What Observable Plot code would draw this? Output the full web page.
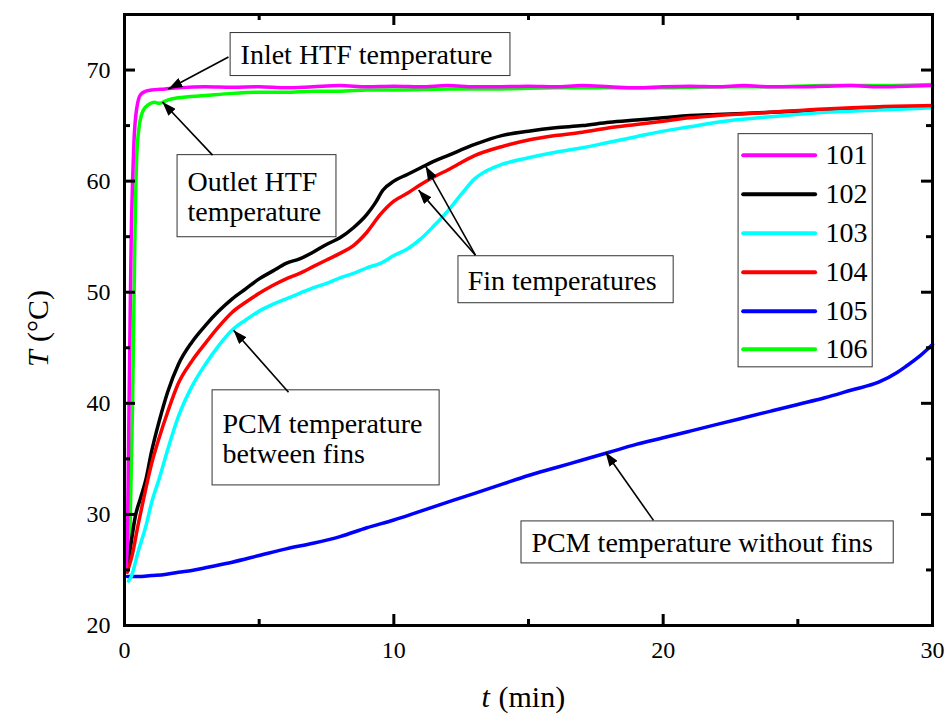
<!DOCTYPE html>
<html>
<head>
<meta charset="utf-8">
<script src="https://cdn.jsdelivr.net/npm/d3@7"></script>
<script src="https://cdn.jsdelivr.net/npm/@observablehq/plot@0.6"></script>
<style>
  html, body { margin: 0; padding: 0; background: white; }
  svg { font-family: "Liberation Serif", "Times New Roman", serif; }
</style>
</head>
<body>
<div id="chart"></div>
<pre id="note" style="position:absolute;left:0;top:0;margin:0;"></pre>
<script>
// ---- Series data (time in min, temperature in °C) ----
const seriesNames = ["101", "102", "103", "104", "105", "106"];
const seriesColors = ["#ff00ff", "#000000", "#00ffff", "#ff0000", "#0000ff", "#00ff00"];

const t101 = [0.05,0.1,0.15,0.2,0.25,0.3,0.35,0.45,0.6,0.8,1.0,1.5,2,3,4,5,6,7,8,9,10,11,12,13,14,15,16,17,18,19,20,21,22,23,24,25,26,27,28,29,30];
const T101 = [25.0,27.0,36.0,46.0,55.0,60.0,63.5,66.5,67.8,68.1,68.2,68.3,68.4,68.5,68.45,68.5,68.4,68.5,68.6,68.5,68.55,68.5,68.6,68.5,68.5,68.55,68.5,68.6,68.5,68.4,68.5,68.55,68.5,68.6,68.5,68.5,68.55,68.6,68.5,68.55,68.6];

const t106 = [0.1,0.2,0.3,0.38,0.45,0.55,0.7,0.9,1.1,1.3,1.6,2,3,4,5,6,7,8,9,10,12,14,16,18,20,22,24,26,28,30];
const T106 = [24.8,28.0,40.0,54.0,62.0,65.0,66.4,66.9,67.1,67.0,67.3,67.5,67.7,67.9,68.0,68.0,68.1,68.1,68.2,68.2,68.3,68.3,68.4,68.4,68.4,68.5,68.5,68.6,68.6,68.7];

const t102 = [0.1,0.25,0.4,0.6,0.8,1.0,1.3,1.6,2.0,2.5,3,3.5,4,4.5,5,5.5,6,6.5,7,7.5,8,8.5,9,9.3,9.6,10,10.5,11,11.5,12,13,14,15,16,17,18,19,20,21,22,24,26,28,30];
const T102 = [25.0,27.5,29.8,31.5,33.2,35.6,38.5,41.0,43.5,45.5,47.0,48.3,49.4,50.3,51.2,51.9,52.6,53.0,53.6,54.3,54.9,55.8,57.0,58.0,59.2,60.0,60.6,61.2,61.8,62.3,63.3,64.1,64.5,64.8,65.0,65.3,65.5,65.7,65.9,66.0,66.2,66.4,66.6,66.7];

const t103 = [0.15,0.25,0.5,0.8,1.0,1.3,1.6,2.0,2.5,3,3.5,4,4.5,5,5.5,6,6.5,7,7.5,8,8.5,9,9.5,10,10.5,11,11.5,12,12.5,13,13.5,14,15,16,17,18,19,20,21,22,24,26,28,30];
const T103 = [24.0,24.4,26.6,29.0,31.0,33.3,35.8,38.8,41.5,43.5,45.2,46.6,47.5,48.3,48.9,49.4,49.9,50.4,50.8,51.3,51.7,52.2,52.6,53.3,53.9,54.8,56.0,57.3,58.8,60.2,61.0,61.5,62.1,62.6,63.0,63.5,64.0,64.5,64.9,65.3,65.8,66.2,66.4,66.6];

const t104 = [0.1,0.3,0.5,0.7,1.0,1.3,1.6,2.0,2.5,3,3.5,4,4.5,5,5.5,6,6.5,7,7.5,8,8.5,9,9.5,10,10.5,11,11.5,12,13,14,15,16,17,18,19,20,21,22,24,26,28,30];
const T104 = [24.8,26.5,29.0,31.3,34.5,37.0,39.2,41.8,43.8,45.4,46.9,48.2,49.1,49.9,50.6,51.2,51.7,52.3,52.9,53.5,54.2,55.4,57.0,58.2,58.9,59.7,60.4,61.0,62.3,63.1,63.7,64.1,64.4,64.8,65.1,65.4,65.7,65.9,66.2,66.5,66.7,66.8];

const t105 = [0.1,0.5,1,1.5,2,2.5,3,4,5,6,7,8,9,10,11,12,13,14,15,16,17,18,19,20,21,22,23,24,25,26,27,28,28.7,29.0,29.5,30];
const T105 = [24.4,24.4,24.5,24.6,24.8,24.95,25.2,25.7,26.3,26.9,27.4,28.0,28.8,29.5,30.3,31.1,31.9,32.7,33.5,34.2,34.9,35.6,36.3,36.9,37.5,38.1,38.7,39.3,39.9,40.5,41.2,41.9,42.8,43.3,44.2,45.3];

// ---- Axis ticks ----
const xMajor = [0, 10, 20, 30];
const xMinor = [5, 15, 25];
const yMajor = [20, 30, 40, 50, 60, 70];
const yMinor = [25, 35, 45, 55, 65, 75];

// ---- Annotations (data units) ----
const annoText = ["Inlet HTF temperature", "Outlet HTF\ntemperature", "Fin temperatures", "PCM temperature\nbetween fins", "PCM temperature without fins"];
const annoTx = [4.31, 2.34, 12.74, 3.64, 15.11];
const annoTy = [71.40, 58.65, 51.08, 36.85, 27.48];
const boxX1 = [3.94, 1.97, 12.40, 3.27, 14.74];
const boxX2 = [14.33, 7.87, 20.39, 11.70, 28.56];
const boxY1 = [69.46, 54.95, 49.01, 32.61, 25.59];
const boxY2 = [73.33, 62.34, 53.24, 41.17, 29.37];
const arrowX1 = [3.86, 3.27, 13.03, 13.03, 6.09, 19.64];
const arrowY1 = [71.17, 62.34, 53.33, 53.33, 40.99, 29.46];
const arrowX2 = [1.63, 1.41, 11.18, 10.92, 4.05, 17.86];
const arrowY2 = [68.29, 67.12, 61.35, 59.19, 46.58, 35.59];

// ---- Legend (data units) ----
const legendBox = {x1: 22.80, x2: 27.78, y1: 43.24, y2: 64.23};
const legendLineX1 = 22.99, legendLineX2 = 25.66, legendLabelX = 26.03;
const legendRowY = [62.34, 58.83, 55.32, 51.80, 48.29, 44.86];

// ---- Build tables ----
const seriesT = {"101": t101, "102": t102, "103": t103, "104": t104, "105": t105, "106": t106};
const seriesV = {"101": T101, "102": T102, "103": T103, "104": T104, "105": T105, "106": T106};
const drawOrder = ["106", "105", "102", "103", "104", "101"];
const rows = [];
for (const s of drawOrder) seriesT[s].forEach((t, i) => rows.push({series: s, t, T: seriesV[s][i]}));
const annos = annoText.map((text, i) => ({text, x: annoTx[i], y: annoTy[i], x1: boxX1[i], x2: boxX2[i], y1: boxY1[i], y2: boxY2[i]}));
const arrows = arrowX1.map((x1, i) => ({x1, y1: arrowY1[i], x2: arrowX2[i], y2: arrowY2[i]}));
const legendRows = seriesNames.map((s, i) => ({s, y: legendRowY[i]}));

const W = 951, H = 715, mL = 124, mR = 19, mT = 14, mB = 90;
const fw = W - mL - mR, fh = H - mT - mB;
const xDom = [0, 30], yDom = [20, 75];
const font = "Liberation Serif";
const ux = (xDom[1] - xDom[0]) / fw, uy = (yDom[1] - yDom[0]) / fh;
const majLen = 11, minLen = 6;

const tickMarks = [];
for (const [vals, len] of [[xMajor, majLen], [xMinor, minLen]]) {
  tickMarks.push(Plot.ruleX(vals, {x: d => d, y1: yDom[0], y2: yDom[0] + len * uy, strokeWidth: 3}));
  tickMarks.push(Plot.ruleX(vals, {x: d => d, y1: yDom[1], y2: yDom[1] - len * uy, strokeWidth: 3}));
}
for (const [vals, len] of [[yMajor, majLen], [yMinor, minLen]]) {
  tickMarks.push(Plot.ruleY(vals, {y: d => d, x1: xDom[0], x2: xDom[0] + len * ux, strokeWidth: 3}));
  tickMarks.push(Plot.ruleY(vals, {y: d => d, x1: xDom[1], x2: xDom[1] - len * ux, strokeWidth: 3}));
}

const chart = Plot.plot({
  width: W, height: H,
  marginLeft: mL, marginRight: mR, marginTop: mT, marginBottom: mB,
  x: {domain: xDom},
  y: {domain: yDom},
  color: {domain: seriesNames, range: seriesColors},
  style: {fontFamily: font, fontSize: "24px", background: "white", color: "black", overflow: "visible"},
  marks: [
    Plot.line(rows, {x: "t", y: "T", z: "series", stroke: "series", strokeWidth: 3.5, curve: "monotone-x"}),
    Plot.rect(annos, {x1: "x1", x2: "x2", y1: "y1", y2: "y2", fill: "white", stroke: "#333", strokeWidth: 1}),
    Plot.text(annos, {x: "x", y: "y", text: "text", textAnchor: "start", lineAnchor: "middle", fontSize: 28, lineHeight: 1.08, fill: "black"}),
    Plot.link(arrows, {x1: "x1", y1: "y1", x2: "x2", y2: "y2", stroke: "black", strokeWidth: 1.6}),
    Plot.rect([legendBox], {x1: "x1", x2: "x2", y1: "y1", y2: "y2", fill: "white", stroke: "#333", strokeWidth: 1}),
    Plot.ruleY(legendRows, {y: "y", x1: legendLineX1, x2: legendLineX2, stroke: "s", strokeWidth: 4, strokeLinecap: "round"}),
    Plot.text(legendRows, {x: legendLabelX, y: "y", text: "s", textAnchor: "start", lineAnchor: "middle", fontSize: 28, fill: "black"}),
    ...tickMarks,
    Plot.frame({stroke: "black", strokeWidth: 3}),
    Plot.axisX(xMajor, {tickSize: 0, tickPadding: 15, fontSize: 24, label: null}),
    Plot.axisY(yMajor, {tickSize: 0, tickPadding: 14, fontSize: 24, label: null}),
    // axis titles (italic variable + unit)
    Plot.text(["t"], {frameAnchor: "bottom-left", dx: 357, dy: 72, textAnchor: "start", lineAnchor: "middle", fontSize: 30, fontStyle: "italic", fill: "black"}),
    Plot.text(["(min)"], {frameAnchor: "bottom-left", dx: 374, dy: 72, textAnchor: "start", lineAnchor: "middle", fontSize: 30, fill: "black"}),
    Plot.text(["T"], {frameAnchor: "left", dx: -86, dy: 47, rotate: -90, textAnchor: "start", lineAnchor: "middle", fontSize: 30, fontStyle: "italic", fill: "black"}),
    Plot.text(["(°C)"], {frameAnchor: "left", dx: -86, dy: 22, rotate: -90, textAnchor: "start", lineAnchor: "middle", fontSize: 30, fill: "black"})
  ]
});

document.getElementById("chart").appendChild(chart);

// filled arrowheads for annotation arrows
const svg = d3.select(chart);
const defs = svg.insert("defs", ":first-child");
defs.append("marker")
  .attr("id", "ahead").attr("viewBox", "0 0 14 10").attr("refX", 14).attr("refY", 5)
  .attr("markerWidth", 14).attr("markerHeight", 10).attr("markerUnits", "userSpaceOnUse")
  .attr("orient", "auto")
  .append("path").attr("d", "M0,0L14,5L0,10Z").attr("fill", "black");
svg.selectAll('g[aria-label="link"] path').attr("marker-end", "url(#ahead)");
</script>
</body>
</html>
